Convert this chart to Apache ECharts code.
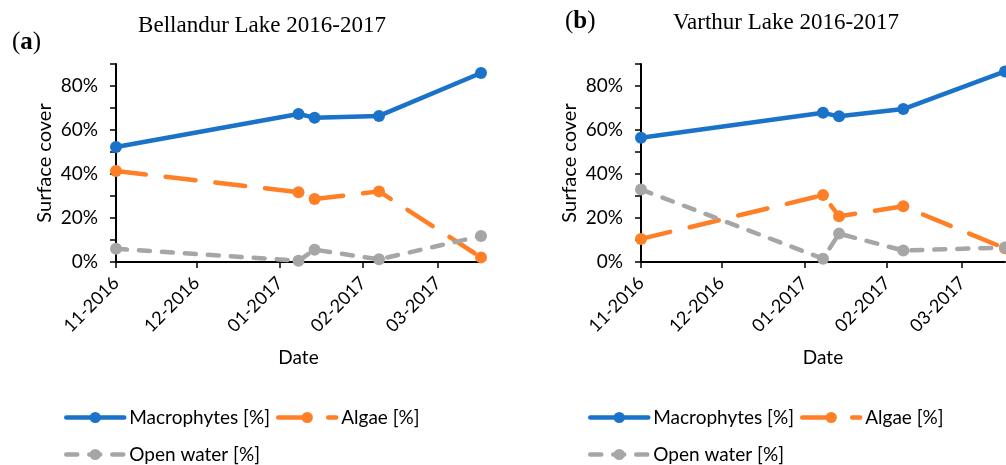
<!DOCTYPE html>
<html>
<head>
<meta charset="utf-8">
<script src="https://cdn.jsdelivr.net/npm/echarts@6/dist/echarts.min.js"></script>
<style>
  html, body { margin: 0; padding: 0; background: #fff; }
  #chart { width: 1006px; height: 465px; }
</style>
</head>
<body>
<div id="chart"></div>
<script>
// sampling dates (same for both lakes)
var dates = ['2016-11-01', '2017-01-08', '2017-01-14', '2017-02-07', '2017-03-17'];
var monthTicks = ['2016-11-01', '2016-12-01', '2017-01-01', '2017-02-01', '2017-03-01'];

// Bellandur Lake, surface cover [%]
var bellMacro = [52.3, 67.3, 65.6, 66.4, 85.9];
var bellAlgae = [41.4, 31.7, 28.6, 32.1, 2.1];
var bellOpen = [6.0, 0.6, 5.6, 1.2, 11.8];

// Varthur Lake, surface cover [%]
var varMacro = [56.5, 67.8, 66.2, 69.5, 86.6];
var varAlgae = [10.5, 30.4, 20.8, 25.3, 6.2];
var varOpen = [33.0, 1.5, 12.9, 5.2, 6.6];

var names = ['Macrophytes [%]', 'Algae [%]', 'Open water [%]'];
var colors = ['#1A73C8', '#FF7F27', '#A6A6A6'];
var yTicks = [0, 20, 40, 60, 80];

var FONT = 'Lato';
var SERIF = 'Liberation Serif';

// dates as plain numbers so the month ticks can be placed exactly
function ts(s) {
  var p = s.split('-');
  return new Date(+p[0], +p[1] - 1, +p[2]).getTime();
}
var dateVals = dates.map(ts);
var tickVals = monthTicks.map(ts);

function pairs(vals) {
  return dateVals.map(function (d, i) { return [d, vals[i]]; });
}

function monthLabel(v) {
  var d = new Date(v);
  var m = d.getMonth() + 1;
  return (m < 10 ? '0' + m : '' + m) + '-' + d.getFullYear();
}

var chart = echarts.init(document.getElementById('chart'), null, { renderer: 'canvas' });

var grids = [
  { left: 116, top: 64, width: 365, height: 198 },
  { left: 641, top: 64, width: 364, height: 198 }
];

var xAxes = [0, 1].map(function (i) {
  return {
    type: 'value',
    gridIndex: i,
    min: dateVals[0],
    max: dateVals[dateVals.length - 1],
    scale: true,
    name: 'Date',
    nameLocation: 'middle',
    nameGap: 86,
    nameTextStyle: { fontFamily: FONT, fontSize: 19, color: '#000' },
    axisLine: { lineStyle: { color: '#000', width: 2 } },
    axisTick: { show: true, length: 6, customValues: tickVals, lineStyle: { color: '#000', width: 1.5 } },
    axisLabel: {
      customValues: tickVals,
      rotate: 45,
      margin: 18,
      fontFamily: FONT,
      fontSize: 18,
      color: '#000',
      formatter: monthLabel
    },
    splitLine: { show: false }
  };
});

var yAxes = [0, 1].map(function (i) {
  return {
    type: 'value',
    gridIndex: i,
    min: 0,
    max: 90,
    interval: 10,
    name: 'Surface cover',
    nameLocation: 'middle',
    nameGap: 61,
    nameTextStyle: { fontFamily: FONT, fontSize: 20, color: '#000' },
    axisLine: { show: true, lineStyle: { color: '#000', width: 2 } },
    axisTick: { show: true, length: 6, lineStyle: { color: '#000', width: 1.5 } },
    axisLabel: {
      fontFamily: FONT,
      fontSize: 19,
      color: '#000',
      margin: 18,
      formatter: function (v) { return yTicks.indexOf(v) >= 0 ? v + '%' : ''; }
    },
    splitLine: { show: false }
  };
});

function makeSeries(idx, vals, k) {
  var line = { color: colors[k], width: 4.5, cap: 'round', join: 'round' };
  if (k === 1) line.type = [30, 20];
  if (k === 2) line.type = [11, 12];
  return {
    name: names[k],
    type: 'line',
    xAxisIndex: idx,
    yAxisIndex: idx,
    data: pairs(vals),
    symbol: 'circle',
    symbolSize: 12,
    clip: false,
    itemStyle: { color: colors[k] },
    lineStyle: line
  };
}

var series = [
  makeSeries(0, bellMacro, 0), makeSeries(0, bellAlgae, 1), makeSeries(0, bellOpen, 2),
  makeSeries(1, varMacro, 0), makeSeries(1, varAlgae, 1), makeSeries(1, varOpen, 2)
];

function legendAt(left, top, items) {
  return {
    left: left,
    top: top,
    padding: 0,
    orient: 'horizontal',
    data: items,
    itemWidth: 58,
    itemHeight: 14,
    itemGap: 6,
    selectedMode: false,
    lineStyle: { width: 4.5 },
    textStyle: { fontFamily: FONT, fontSize: 19, color: '#000' }
  };
}

function tag(letter, left, top) {
  return {
    text: '({b|' + letter + '})', left: left, top: top,
    textStyle: { fontFamily: SERIF, fontSize: 25, fontWeight: 'normal', color: '#000',
      rich: { b: { fontFamily: SERIF, fontSize: 25, fontWeight: 'bold', color: '#000' } } }
  };
}

var option = {
  animation: false,
  title: [
    { text: 'Bellandur Lake 2016-2017', left: 257, top: 9, textAlign: 'center',
      textStyle: { fontFamily: SERIF, fontSize: 23, fontWeight: 'normal', color: '#000' } },
    { text: 'Varthur Lake 2016-2017', left: 781, top: 6, textAlign: 'center',
      textStyle: { fontFamily: SERIF, fontSize: 23, fontWeight: 'normal', color: '#000' } },
    tag('a', 7, 25),
    tag('b', 560, 4)
  ],
  legend: [
    legendAt(64, 408, [names[0], names[1]]),
    legendAt(64, 445, [names[2]]),
    legendAt(588, 408, [names[0], names[1]]),
    legendAt(588, 445, [names[2]])
  ],
  grid: grids,
  xAxis: xAxes,
  yAxis: yAxes,
  series: series
};

chart.setOption(option);
</script>
</body>
</html>
